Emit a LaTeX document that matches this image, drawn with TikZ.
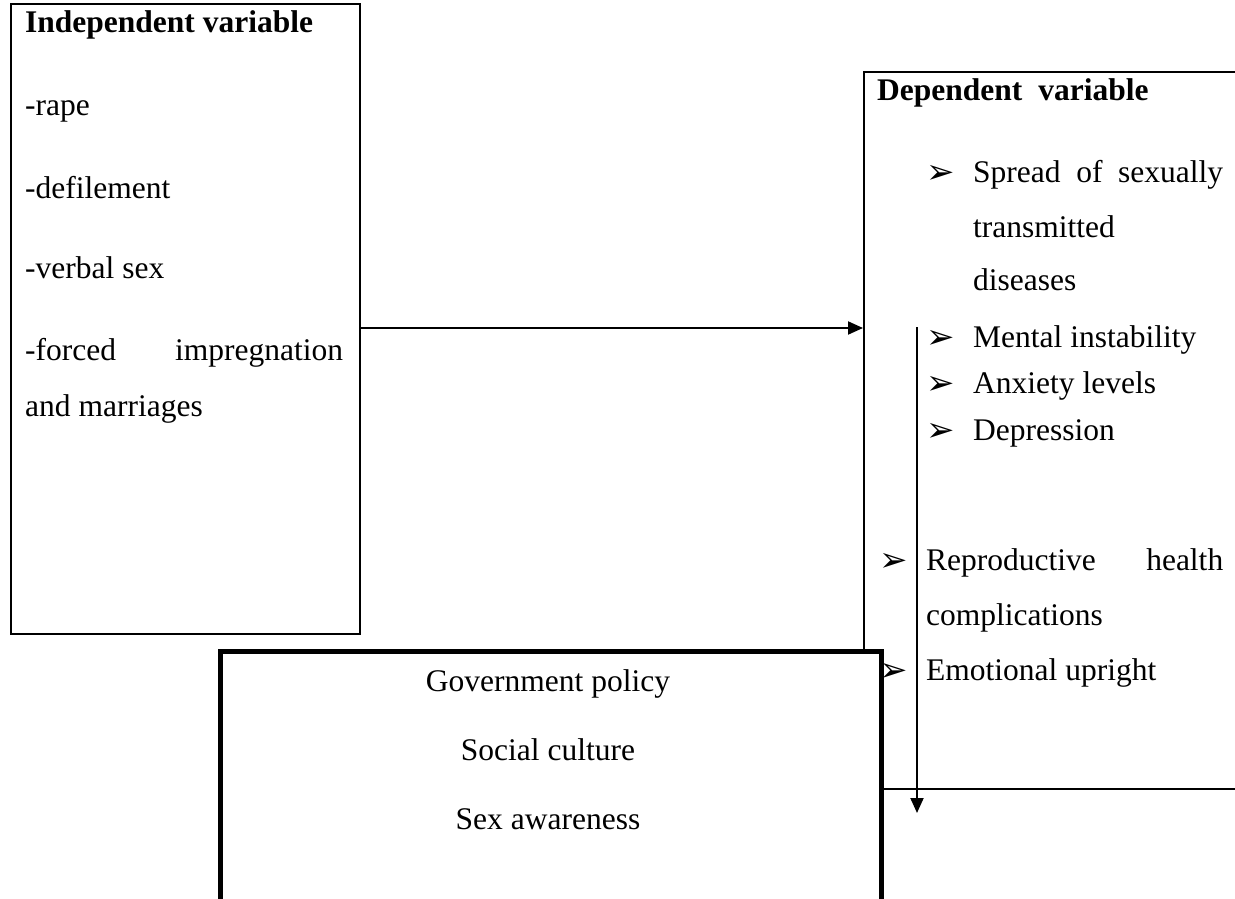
\documentclass[tikz,border=0pt]{standalone}
\usepackage{fontspec}
\setmainfont{Liberation Serif}
\newfontfamily\symfont{DejaVu Sans}
\usetikzlibrary{arrows.meta,positioning}

\begin{document}
\begin{tikzpicture}[
    x=1pt, y=-1pt,
    box/.style={rectangle, draw, line width=2pt, fill=white, inner sep=0pt, anchor=north west},
    txt/.style={anchor=base west, inner sep=0pt, font=\fontsize{31.5}{36}\selectfont},
    head/.style={txt, font=\fontsize{31.5}{36}\selectfont\bfseries},
    bul/.style={anchor=base west, inner sep=0pt, font=\symfont\fontsize{34}{38}\selectfont},
    arrow/.style={-{Triangle[length=15pt,width=13pt]}, line width=2pt}
]
    \useasboundingbox (0,0) rectangle (1235,899);
    \clip (0,0) rectangle (1235,899);

    % independent variable
    \node[box, minimum width=349pt, minimum height=630pt] (indep) at (10,3) {};
    \node[head] (indtitle) at (25,33) {Independent variable};
    \node[txt] (rape) at (25,115) {-rape};
    \node[txt] (defile) at (25,198) {-defilement};
    \node[txt] (verbal) at (25,278) {-verbal sex};
    \node[txt] (forced) at (25,360) {\makebox[318pt]{-forced\hfill impregnation}};
    \node[txt] (marr) at (25,416) {and marriages};

    % dependent variable
    \node[box, minimum width=400pt, minimum height=717pt] (dep) at (863,71) {};
    \node[head] (deptitle) at (877,100) {Dependent\hspace{8pt} variable};
    \node[bul] (b1) at (926,183) {➢};
    \node[txt] (spread) at (973,182) {\makebox[250pt]{Spread\hfill of\hfill sexually}};
    \node[txt] (trans) at (973,237) {transmitted};
    \node[txt] (dis) at (973,290) {diseases};
    \node[bul] (b2) at (926,348) {➢};
    \node[txt] (mental) at (973,347) {Mental instability};
    \node[bul] (b3) at (926,394) {➢};
    \node[txt] (anx) at (973,393) {Anxiety levels};
    \node[bul] (b4) at (926,441) {➢};
    \node[txt] (depr) at (973,440) {Depression};
    \node[bul] (b5) at (879,571) {➢};
    \node[txt] (repro) at (926,570) {\makebox[297pt]{Reproductive\hfill health}};
    \node[txt] (compl) at (926,625) {complications};
    \node[bul] (b6) at (879,681) {➢};
    \node[txt] (emo) at (926,680) {Emotional upright};

    \draw[arrow] ([yshift=-9pt]indep.east) -- ([yshift=-9pt]indep.east -| dep.west);
    \coordinate (vtop) at (917,327);
    \coordinate (vend) at (917,813);
    \draw[arrow] (vtop) -- (vend);

    % intervening variables
    \node[box, line width=4.5pt, minimum width=661pt, minimum height=300pt] (moder) at (218,649) {};
    \node[txt, anchor=base] (gov) at (548,691) {Government policy};
    \node[txt, anchor=base] (social) at (548,760) {Social culture};
    \node[txt, anchor=base] (aware) at (548,829) {Sex awareness};
\end{tikzpicture}
\end{document}
